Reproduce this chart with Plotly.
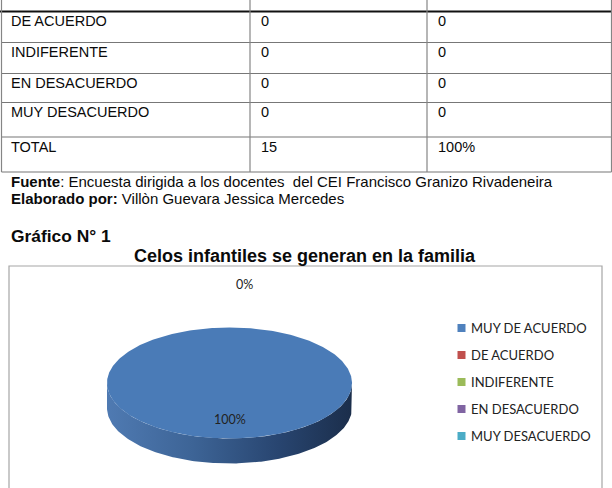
import numpy as np
import plotly.graph_objects as go

# ---------------- data ----------------
table_labels = ["DE ACUERDO", "INDIFERENTE", "EN DESACUERDO", "MUY DESACUERDO", "TOTAL"]
table_freq = ["0", "0", "0", "0", "15"]
table_pct = ["0", "0", "0", "0", "100%"]

categories = ["MUY DE ACUERDO", "DE ACUERDO", "INDIFERENTE", "EN DESACUERDO", "MUY DESACUERDO"]
values = [15, 0, 0, 0, 0]
colors = ["#4F81BD", "#C0504D", "#9BBB59", "#8064A2", "#4BACC6"]

source_text = "<b>Fuente</b>: Encuesta dirigida a los docentes  del CEI Francisco Granizo Rivadeneira"
author_text = "<b>Elaborado por:</b> Villòn Guevara Jessica Mercedes"
figure_label = "<b>Gráfico N° 1</b>"
chart_title = "<b>Celos infantiles se generan en la familia</b>"

# ---------------- layout geometry ----------------
W, H = 612, 488
DOC_FONT = "Liberation Sans, Arial, sans-serif"
CHART_FONT = "Lato, Calibri, sans-serif"

row_lines = [11.5, 42.5, 73.5, 102.5, 137, 172]
col_lines = [1.5, 250, 427, 611.5]
col_text_x = [9, 259, 436]

cx, cy, a, b, depth = 229.5, 383.0, 122.5, 55.5, 25.0

fig = go.Figure()
shapes = []
annotations = []

# ---------------- table ----------------
for i, yl in enumerate(row_lines):
    if i == 0:
        shapes.append(dict(type="line", x0=0, x1=W, y0=yl, y1=yl,
                           line=dict(color="#111111", width=2.2)))
    else:
        shapes.append(dict(type="line", x0=col_lines[0], x1=col_lines[-1], y0=yl, y1=yl,
                           line=dict(color="#777777", width=1.2)))
for xl in col_lines:
    shapes.append(dict(type="line", x0=xl, x1=xl, y0=0, y1=row_lines[-1],
                       line=dict(color="#858585", width=1.2)))

for r, (lab, fq, pc) in enumerate(zip(table_labels, table_freq, table_pct)):
    ymid = row_lines[r] + 9.5
    for c, txt in enumerate([lab, fq, pc]):
        annotations.append(dict(x=col_text_x[c], y=ymid, text=txt, showarrow=False,
                                xanchor="left", yanchor="middle",
                                font=dict(family=DOC_FONT, size=14.5, color="#0a0a0a")))

annotations.append(dict(x=9, y=181, text=source_text, showarrow=False, xanchor="left",
                        yanchor="middle", font=dict(family=DOC_FONT, size=15, color="#0a0a0a")))
annotations.append(dict(x=9, y=198, text=author_text, showarrow=False, xanchor="left",
                        yanchor="middle", font=dict(family=DOC_FONT, size=15, color="#0a0a0a")))
annotations.append(dict(x=9, y=236, text=figure_label, showarrow=False, xanchor="left",
                        yanchor="middle", font=dict(family=DOC_FONT, size=17.4, color="#0a0a0a")))
annotations.append(dict(x=305, y=256, text=chart_title, showarrow=False, xanchor="center",
                        yanchor="middle", font=dict(family=DOC_FONT, size=18, color="#0a0a0a")))

# chart border
shapes.append(dict(type="rect", x0=9, x1=602, y0=266, y1=H + 5,
                   line=dict(color="#a6a6a6", width=1.2), fillcolor="rgba(0,0,0,0)"))

# ---------------- 3D pie (elliptical) ----------------
vals = np.array(values, dtype=float)
total = vals.sum()
fracs = vals / total
cum = np.concatenate([[0.0], np.cumsum(fracs)])
# Excel: first slice starts at 12 o'clock, clockwise
start_ang = 90.0 - 360.0 * cum[:-1]
end_ang = 90.0 - 360.0 * cum[1:]

side_scale = [[0.0, "#4f7ab2"], [0.35, "#3d6496"], [0.7, "#284570"], [1.0, "#1b2e4b"]]

# side bands (front half: math angles between -180 and 0)
for i in range(len(vals)):
    if fracs[i] <= 0:
        continue
    s, e = end_ang[i], start_ang[i]  # s < e
    segs = []
    for k in range(-2, 2):
        lo, hi = -180 + 360 * k, 0 + 360 * k
        a0, a1 = max(s, lo), min(e, hi)
        if a1 > a0:
            segs.append((a0, a1))
    for a0, a1 in segs:
        t = np.radians(np.linspace(a0, a1, 200))
        xu = cx + a * np.cos(t)
        yu = cy - b * np.sin(t)
        xs = np.concatenate([xu, xu[::-1]])
        ys = np.concatenate([yu, (yu + depth)[::-1]])
        fig.add_trace(go.Scatter(x=xs, y=ys, mode="lines", fill="toself",
                                 line=dict(width=0), fillgradient=dict(type="horizontal",
                                                                       colorscale=side_scale),
                                 hoverinfo="skip", showlegend=False))

# top faces
for i in range(len(vals)):
    if fracs[i] <= 0:
        continue
    t = np.radians(np.linspace(start_ang[i], end_ang[i], 400))
    xs = cx + a * np.cos(t)
    ys = cy - b * np.sin(t)
    if fracs[i] < 1:
        xs = np.concatenate([[cx], xs, [cx]])
        ys = np.concatenate([[cy], ys, [cy]])
    fig.add_trace(go.Scatter(x=xs, y=ys, mode="lines", fill="toself",
                             fillcolor="#4a7bb7", line=dict(width=0),
                             hoverinfo="text", text=categories[i], showlegend=False))

# data labels
seen = set()
for i in range(len(vals)):
    mid = np.radians((start_ang[i] + end_ang[i]) / 2.0)
    pct = f"{round(fracs[i] * 100):d}%"
    if fracs[i] > 0:
        lx, ly, xsh = cx + 0.66 * a * np.cos(mid), cy - 0.66 * b * np.sin(mid), 0
    else:
        lx, ly, xsh = cx + 1.78 * a * np.cos(mid), cy - 1.78 * b * np.sin(mid), 15
    key = (round(lx, 1), round(ly, 1), pct)
    if key in seen:
        continue
    seen.add(key)
    annotations.append(dict(x=lx, y=ly, xshift=xsh, text=pct, showarrow=False,
                            xanchor="center", yanchor="middle",
                            font=dict(family=CHART_FONT, size=12.5, color="#222222")))

# legend
leg_y = [328 + 27 * k for k in range(len(categories))]
fig.add_trace(go.Scatter(x=[461.5] * len(categories), y=leg_y, mode="markers",
                         marker=dict(symbol="square", size=8, color=colors, line=dict(width=0)),
                         hoverinfo="skip", showlegend=False))
for k, cat in enumerate(categories):
    annotations.append(dict(x=468.5, y=leg_y[k], text=cat, showarrow=False, xanchor="left",
                            yanchor="middle",
                            font=dict(family=CHART_FONT, size=13, color="#222222")))

fig.update_layout(
    width=W, height=H, margin=dict(l=0, r=0, t=0, b=0),
    paper_bgcolor="white", plot_bgcolor="white",
    xaxis=dict(range=[0, W], visible=False, fixedrange=True),
    yaxis=dict(range=[H, 0], visible=False, fixedrange=True),
    shapes=shapes, annotations=annotations, showlegend=False,
)

fig.write_html("out.html")
